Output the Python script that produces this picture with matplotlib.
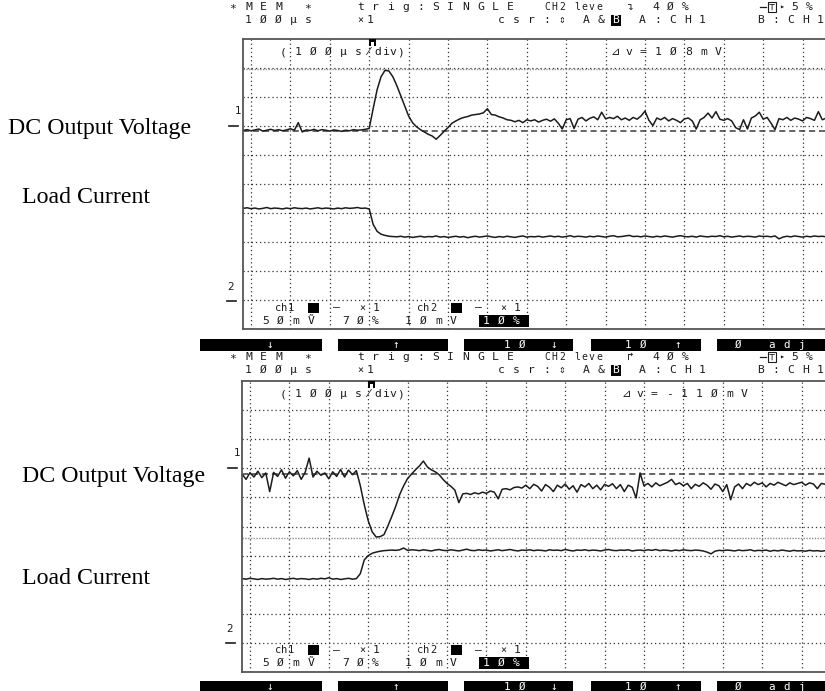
import numpy as np
import matplotlib
matplotlib.use("Agg")
import matplotlib.pyplot as plt
from matplotlib.patches import Rectangle

W, H = 825, 691
MONO = ["DejaVu Sans Mono", "DejaVu Sans"]
SERIF = "Liberation Serif"
INK = "#1c1c1c"
PX_US = 0.394          # screen pixels per microsecond (39.4 px per 100 us div)

# ---- data -------------------------------------------------------------------
# scope record: one sample every 10 us from -20 us to 1460 us
T_US = np.arange(-20, 1470, 10)

# traces in screen divisions (0 = bottom graticule edge, 10 = top edge)
V_TOP = [
    6.85, 6.88, 6.84, 6.87, 6.90, 6.83, 6.86, 6.89, 6.85, 6.88,
    6.84, 6.87, 6.91, 6.86, 7.12, 6.80, 6.87, 6.85, 6.89, 6.84,
    6.88, 6.86, 6.83, 6.87, 6.85, 6.82, 6.86, 6.84, 6.88, 6.86,
    6.87, 6.89,
    6.92, 7.60, 8.25, 8.70, 8.92, 8.90, 8.70, 8.40, 8.05, 7.70,
    7.35, 7.12, 6.98, 6.88, 6.80, 6.72, 6.66, 6.55, 6.68, 6.82,
    6.95, 7.10, 7.18, 7.25, 7.30, 7.33, 7.38, 7.40, 7.42, 7.46,
    7.60, 7.40, 7.38, 7.32, 7.28, 7.22, 7.20, 7.15, 7.20, 7.12,
    7.22,
    7.18, 7.22, 7.14, 7.20, 7.24, 7.17, 7.25, 7.10, 6.90, 7.22,
    7.26, 6.92, 7.24, 7.30, 7.18, 7.27, 7.32, 7.22, 7.48, 7.25,
    7.30, 7.26, 7.34, 7.22, 7.28, 7.20, 7.30, 7.24, 7.35, 7.52,
    7.20, 7.02, 7.28, 7.22, 7.30, 7.18, 7.26, 7.20, 7.12, 7.25,
    7.28, 7.18, 6.90, 7.22, 7.30, 7.45, 7.28, 7.50, 7.24, 7.20,
    7.26, 7.18, 6.95, 6.88, 7.22, 6.90, 7.28, 7.35, 7.48, 7.24,
    7.30, 7.10, 6.88, 7.26, 7.22, 7.30, 7.20, 7.28, 7.24, 7.18,
    7.30, 7.26, 7.20, 7.50, 7.22, 7.28,
]
I_TOP = [
    4.17, 4.19, 4.16, 4.18, 4.15, 4.17, 4.20, 4.16, 4.18, 4.17,
    4.15, 4.18, 4.16, 4.19, 4.17, 4.16, 4.18, 4.15, 4.17, 4.19,
    4.16, 4.18, 4.17, 4.15, 4.18, 4.16, 4.19, 4.17, 4.18, 4.20,
    4.17, 4.18,
    4.15, 3.62, 3.38, 3.28, 3.24, 3.21,
    3.20, 3.19, 3.21, 3.18, 3.20, 3.17, 3.19, 3.21, 3.18, 3.20,
    3.19, 3.22, 3.18, 3.20, 3.17, 3.19, 3.21, 3.18, 3.20, 3.16,
    3.19, 3.21, 3.18, 3.20, 3.22, 3.19, 3.17, 3.20, 3.18, 3.21,
    3.19, 3.17, 3.20, 3.22, 3.18, 3.20, 3.19, 3.21, 3.18, 3.20,
    3.22, 3.19, 3.21, 3.18, 3.20, 3.23, 3.19, 3.21, 3.20, 3.18,
    3.21, 3.19, 3.22, 3.20, 3.18, 3.21, 3.23, 3.19, 3.20, 3.22,
    3.24, 3.20, 3.21, 3.19, 3.22, 3.20, 3.18, 3.21, 3.19, 3.22,
    3.20, 3.18, 3.21, 3.23, 3.20, 3.19, 3.21, 3.18, 3.22, 3.20,
    3.19, 3.21, 3.20, 3.23, 3.19, 3.21, 3.18, 3.20, 3.22, 3.19,
    3.21, 3.20, 3.18, 3.22, 3.20, 3.21, 3.19, 3.22, 3.12, 3.18,
    3.21, 3.19, 3.22, 3.20, 3.18, 3.21, 3.19, 3.22, 3.20, 3.21,
    3.19,
]
V_BOT = [
    6.80, 6.62, 6.85, 6.70, 6.90, 6.68, 6.84, 6.20, 6.86, 6.72,
    6.95, 6.66, 6.88, 6.74, 6.92, 6.62, 6.86, 7.35, 6.70, 6.90,
    6.76, 6.84, 6.64, 6.88, 6.72, 6.96, 6.70, 6.94, 6.78, 6.92,
    6.40, 5.75,
    5.20, 4.82, 4.64, 4.65, 4.72, 5.02, 5.35, 5.70, 6.10, 6.40,
    6.65, 6.80, 6.95, 7.08, 7.25, 7.05, 6.95, 6.88, 6.78, 6.62,
    6.48, 6.38, 6.25, 5.82, 6.12, 6.14, 6.10, 6.16, 6.12, 6.18,
    6.14, 6.22, 6.18, 5.95, 6.28, 6.30, 6.26, 6.34, 6.36, 6.32,
    6.42, 6.30, 6.45, 6.38, 6.22, 6.44, 6.35, 6.20, 6.42, 6.33,
    6.46, 6.28, 6.40, 6.18, 6.44, 6.36, 6.48, 6.30, 6.42, 6.26,
    6.45, 6.38, 6.47, 6.30, 6.44, 6.20, 6.42, 6.35, 5.98, 6.84,
    6.40, 6.48, 6.36, 6.50, 6.40, 6.46, 6.52, 6.62, 6.44, 6.50,
    6.40, 6.48, 6.30, 6.45, 6.38, 6.50, 6.42, 6.28, 6.46, 6.40,
    6.20, 6.44, 5.92, 6.36, 6.46, 6.30, 6.48, 6.40, 6.52, 6.44,
    6.50, 6.36, 6.48, 6.42, 6.52, 6.46, 6.40, 6.50, 6.44, 6.48,
    6.52, 6.42, 6.50, 6.46, 6.30, 6.48, 6.45,
]
I_BOT = [
    3.21, 3.19, 3.22, 3.20, 3.18, 3.21, 3.19, 3.20, 3.22, 3.19,
    3.21, 3.18, 3.20, 3.22, 3.19, 3.21, 3.20, 3.18, 3.21, 3.19,
    3.22, 3.20, 3.24, 3.19, 3.21, 3.18, 3.20, 3.22, 3.19, 3.21,
    3.38, 3.85, 4.00, 4.08, 4.12, 4.15, 4.17, 4.18, 4.19, 4.18,
    4.20, 4.26, 4.18, 4.20,
    4.19, 4.17, 4.20, 4.18, 4.16, 4.19, 4.21, 4.18, 4.17, 4.20,
    4.18, 4.16, 4.19, 4.22, 4.18, 4.17, 4.20, 4.18, 4.19, 4.16,
    4.18, 4.20, 4.17, 4.19, 4.21, 4.18, 4.16, 4.19, 4.18, 4.20,
    4.17, 4.19, 4.18, 4.16, 4.20, 4.18, 4.19, 4.17, 4.21, 4.18,
    4.16, 4.19, 4.18, 4.20, 4.17, 4.19, 4.18, 4.16, 4.19, 4.21,
    4.18, 4.17, 4.19, 4.18, 4.20, 4.16, 4.18, 4.19, 4.17, 4.20,
    4.18, 4.21, 4.17, 4.19, 4.18, 4.16, 4.19, 4.17, 4.20, 4.18,
    4.17, 4.19, 4.18, 4.16, 4.12, 4.06, 4.15, 4.18, 4.17, 4.19,
    4.18, 4.16, 4.19, 4.17, 4.18, 4.20, 4.16, 4.18, 4.17, 4.19,
    4.15, 4.18, 4.16, 4.19, 4.17, 4.15, 4.18, 4.16, 4.17, 4.15,
    4.18, 4.16, 4.17, 4.15, 4.17,
]

CURSOR_A = [6.83, 6.80]          # dashed cursor (divisions)
CURSOR_B = [8.97, 4.60]          # grey cursor (divisions)
DV_TEXT = ["⊿ v = 1 Ø 8 m V", "⊿ v = - 1 1 Ø m V"]
SLOPE = ["↴", "↱"]
LABELS = ["DC Output Voltage", "Load Current"]
# soft keys: (left, right, [(offset, text), ...])
KEYS = [
    (200, 322, [(66, "↓")]),
    (338, 448, [(54, "↑")]),
    (464, 573, [(40, "1 Ø"), (86, "↓")]),
    (591, 701, [(34, "1 Ø"), (83, "↑")]),
    (717, 826, [(18, "Ø"), (51, "a d j")]),
]

# ---- figure -------------------------------------------------------------------
fig = plt.figure(figsize=(W / 100, H / 100), dpi=100)
fig.patch.set_facecolor("white")
ov = fig.add_axes([0, 0, 1, 1])
ov.set_xlim(0, W)
ov.set_ylim(H, 0)
ov.axis("off")
ov.set_zorder(5)

FS = 8.2


def cells(x, y, s, pitch=7.5, size=FS, color=INK):
    # character-cell text like the scope screen
    for k, ch in enumerate(s):
        if ch != " ":
            ov.text(x + k * pitch, y, ch, fontsize=size, family=MONO,
                    color=color, ha="left", va="center")


def panel(k, top, bot, left, x0, volt, amp, hy1, hy2, lab_y, lab_x):
    ax = fig.add_axes([left / W, 1 - bot / H, 1 - left / W, (bot - top) / H])
    ax.set_xlim((left - x0) / PX_US, (W - x0) / PX_US)
    ax.set_ylim(0, 10)
    ax.set_xticks(np.arange(0, 1500, 100))
    ax.set_yticks(np.arange(1, 10))
    ax.tick_params(length=0, labelbottom=False, labelleft=False)
    ax.grid(True, color="#333333", lw=0.9, ls=(0, (1, 2.3)))
    ax.spines["right"].set_visible(False)
    for s in ("left", "top", "bottom"):
        ax.spines[s].set_color("#555555")
        ax.spines[s].set_linewidth(1.3)
    ax.axhline(CURSOR_B[k], color="#8c8c8c", lw=1.0, ls=(0, (1, 1)))
    ax.axhline(CURSOR_A[k], color="#3a3a3a", lw=1.1, ls=(0, (4, 2.5)))
    ax.plot(T_US, volt, color=INK, lw=1.1)
    ax.plot(T_US, amp, color=INK, lw=1.1)

    # scope status lines above the graticule
    cells(229, hy1, "∗")
    cells(245, hy1, "M E M")
    cells(304, hy1, "∗")
    cells(357, hy1, "t r i g : S I N G L E")
    cells(544, hy1, "CH2 leve", size=7)
    cells(627, hy1, SLOPE[k])
    cells(652, hy1, "4 Ø %")
    ov.text(772, hy1, "⊤", fontsize=7.5, family=MONO, color=INK, ha="center",
            va="center", bbox=dict(fc="white", ec=INK, lw=0.8, pad=0.3))
    ov.plot([760, 766], [hy1, hy1], color=INK, lw=0.9)
    cells(779, hy1, "▸", size=6)
    cells(791, hy1, "5 %")
    cells(245, hy2, "1 Ø Ø µ s")
    cells(357, hy2, "×", size=7.2)
    cells(367, hy2, "1")
    cells(498, hy2, "c s r : ⇕")
    cells(583, hy2, "A & ")
    ov.add_patch(Rectangle((611, hy2 - 5.5), 10, 11, fc="black", ec="none"))
    cells(612, hy2, "B", color="white")
    cells(639, hy2, "A : C H 1")
    cells(757, hy2, "B : C H 1")

    # header row inside the box
    hr = top + 13
    cells(280, hr, "(")
    cells(295, hr, "1 Ø Ø µ s")
    cells(367, hr, "⁄div)")
    cells(610 + 11 * k, hr, DV_TEXT[k])
    ov.add_patch(Rectangle((369 - k, top), 7, 7, fc="black", ec="none"))
    ov.add_patch(Rectangle((371 - k, top + 3), 3, 4, fc="white", ec="none"))

    # channel markers left of the box
    ov.text(238 - k, top + 72, "1", fontsize=7.5, color=INK, ha="center", va="center")
    ov.plot([229 - k, 238 - k], [top + 87, top + 87], color=INK, lw=1.2)
    ov.text(231 - k, top + 248, "2", fontsize=7.5, color=INK, ha="center", va="center")
    ov.plot([227 - k, 236 - k], [top + 262, top + 262], color=INK, lw=1.2)

    # footer rows inside the box
    f1, f2 = bot - 22, bot - 9
    cells(275, f1, "ch1", pitch=6.5, size=7.5)
    ov.add_patch(Rectangle((308, f1 - 5), 11, 10, fc="black", ec="none"))
    cells(333, f1, "–")
    cells(359, f1, "×", size=7.2)
    cells(373, f1, "1")
    cells(417, f1, "ch2", pitch=6.5, size=7.5)
    ov.add_patch(Rectangle((451, f1 - 5), 11, 10, fc="black", ec="none"))
    cells(475, f1, "–")
    cells(500, f1, "×", size=7.2)
    cells(514, f1, "1")
    cells(262, f2, "5 Ø m")
    cells(308, f2, "Ṽ")
    cells(342, f2, "7 Ø %")
    cells(405, f2, "1 Ø m V")
    ov.add_patch(Rectangle((479, f2 - 6), 50, 12, fc="black", ec="none"))
    cells(483, f2, "1 Ø %", color="white")

    # soft-key bar under the box
    by = bot + 9
    for xa, xb, items in KEYS:
        ov.add_patch(Rectangle((xa, by), xb - xa, 12, fc="black", ec="none"))
        for dx, txt in items:
            cells(xa + dx, by + 6, txt, color="white", size=7.8)

    # annotations on the left
    ov.text(lab_x[0], lab_y[0], LABELS[0], family=SERIF, fontsize=17.2,
            color="black", ha="left", va="center")
    ov.text(lab_x[1], lab_y[1], LABELS[1], family=SERIF, fontsize=17.2,
            color="black", ha="left", va="center")


panel(0, 39, 329.5, 243, 251, V_TOP, I_TOP, 7, 20, (128, 197), (8, 22))
panel(1, 381, 672, 242, 250, V_BOT, I_BOT, 357, 370, (476, 578), (22, 22))

fig.savefig("out.png", dpi=100, facecolor="white")
